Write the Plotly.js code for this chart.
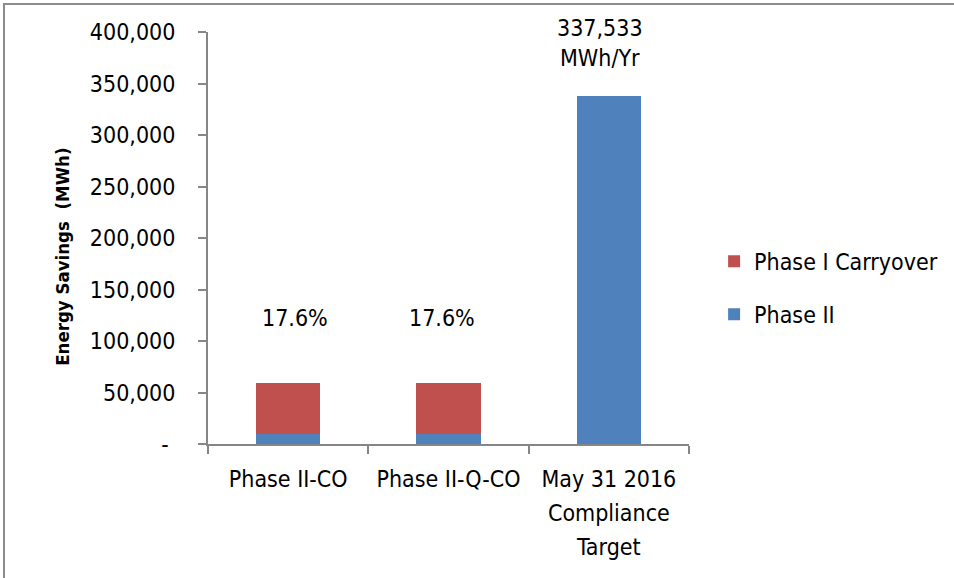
<!DOCTYPE html>
<html>
<head>
<meta charset="utf-8">
<script src="https://cdn.plot.ly/plotly-3.0.1.min.js"></script>
<style>
  html, body { margin: 0; padding: 0; background: #fff; }
  #wrap { position: relative; width: 954px; height: 578px; overflow: hidden; }
  #chart { width: 954px; height: 578px; }
  #frame { position: absolute; left: 3px; top: 3px; right: -10px; bottom: -10px;
           border-top: 2px solid #8c8c8c; border-left: 2px solid #8c8c8c; pointer-events: none; }
</style>
</head>
<body>
<div id="wrap">
  <div id="chart"></div>
  <div id="frame"></div>
</div>
<script>
// ---- data ----
var categories = ["Phase II-CO", "Phase II-Q-CO", "May 31 2016 Compliance Target"];
var categoryLines = [["Phase II-CO"], ["Phase II-Q-CO"], ["May 31 2016", "Compliance", "Target"]];
var phaseII = [10000, 10000, 337533];
var phaseICarryover = [49400, 49400, 0];
var seriesNames = ["Phase II", "Phase I Carryover"];
var targetValue = 337533;
var targetUnit = "MWh/Yr";
var yTickVals = [0, 50000, 100000, 150000, 200000, 250000, 300000, 350000, 400000];
var yTickText = ["-\u00a0", "50,000", "100,000", "150,000", "200,000", "250,000", "300,000", "350,000", "400,000"];
var yTitle = "Energy Savings\u00a0\u00a0(MWh)";

var FONT = "'DejaVu Sans Condensed', 'Liberation Sans Narrow', sans-serif";
var SZ = 23;
var blue = "#4F81BD", red = "#C0504D", axisGray = "#868686";

var xTickText = categoryLines.map(function(lines){
  return lines.map(function(l){ return '<span style="font-size:' + SZ + 'px">' + l + '</span>'; }).join("<br>");
});

var traces = [
  { type: "bar", name: seriesNames[0], x: categories, y: phaseII,
    marker: { color: blue }, legendgroup: "b", legendrank: 2, hoverinfo: "y" },
  { type: "bar", name: seriesNames[1], x: categories, y: phaseICarryover.map(function(v){ return v === 0 ? null : v; }),
    marker: { color: red }, legendgroup: "a", legendrank: 1, hoverinfo: "y" }
];

var pctShift = [7, -7];
var annotations = [];
for (var i = 0; i < 2; i++) {
  var tot = phaseII[i] + phaseICarryover[i];
  annotations.push({
    x: categories[i], xref: "x", y: 0.306, yref: "paper", yanchor: "middle", xanchor: "center",
    xshift: pctShift[i],
    text: (tot / targetValue * 100).toFixed(1) + "%",
    showarrow: false, font: { family: FONT, size: SZ, color: "#000" }
  });
}
annotations.push({
  x: categories[2], xref: "x", y: 0.973, yref: "paper", yanchor: "middle", xanchor: "center", xshift: -9,
  text: targetValue.toLocaleString("en-US") + "<br>" + targetUnit,
  showarrow: false, font: { family: FONT, size: SZ, color: "#000" }
});
// y-axis title drawn as a rotated annotation so it can sit where the reference has it
annotations.push({
  x: -0.303, xref: "paper", y: 0.455, yref: "paper", xanchor: "center", yanchor: "middle",
  textangle: -90, text: "<b>" + yTitle + "</b>", showarrow: false,
  font: { family: FONT, size: 18.5, color: "#000" }
});

var layout = {
  width: 954, height: 578,
  margin: { l: 208, r: 264, t: 32, b: 134 },
  paper_bgcolor: "#fff", plot_bgcolor: "#fff",
  barmode: "stack", bargap: 0.6,
  font: { family: FONT, size: SZ, color: "#000" },
  xaxis: {
    type: "category", showline: true, linecolor: axisGray, linewidth: 2,
    ticks: "outside", ticklen: 8, tickcolor: axisGray, tickwidth: 2,
    tickson: "boundaries", showgrid: false, zeroline: false, tickangle: 0,
    tickvals: categories, ticktext: xTickText,
    tickfont: { family: FONT, size: 26, color: "#000" },
    ticklabelstandoff: 10, automargin: false
  },
  yaxis: {
    range: [0, 400000], showline: true, linecolor: axisGray, linewidth: 2,
    ticks: "outside", ticklen: 8, tickcolor: axisGray, tickwidth: 2,
    tickvals: yTickVals, ticktext: yTickText, showgrid: false, zeroline: false,
    tickfont: { family: FONT, size: SZ, color: "#000" },
    ticklabelstandoff: 18, automargin: false
  },
  legend: {
    x: 1.05, xanchor: "left", y: 0.379, yanchor: "middle",
    traceorder: "grouped", tracegroupgap: 20, itemwidth: 30,
    font: { family: FONT, size: SZ, color: "#000" },
    bgcolor: "rgba(0,0,0,0)"
  },
  annotations: annotations,
  showlegend: true
};

Plotly.newPlot("chart", traces, layout, { displayModeBar: false, staticPlot: true });
</script>
</body>
</html>
